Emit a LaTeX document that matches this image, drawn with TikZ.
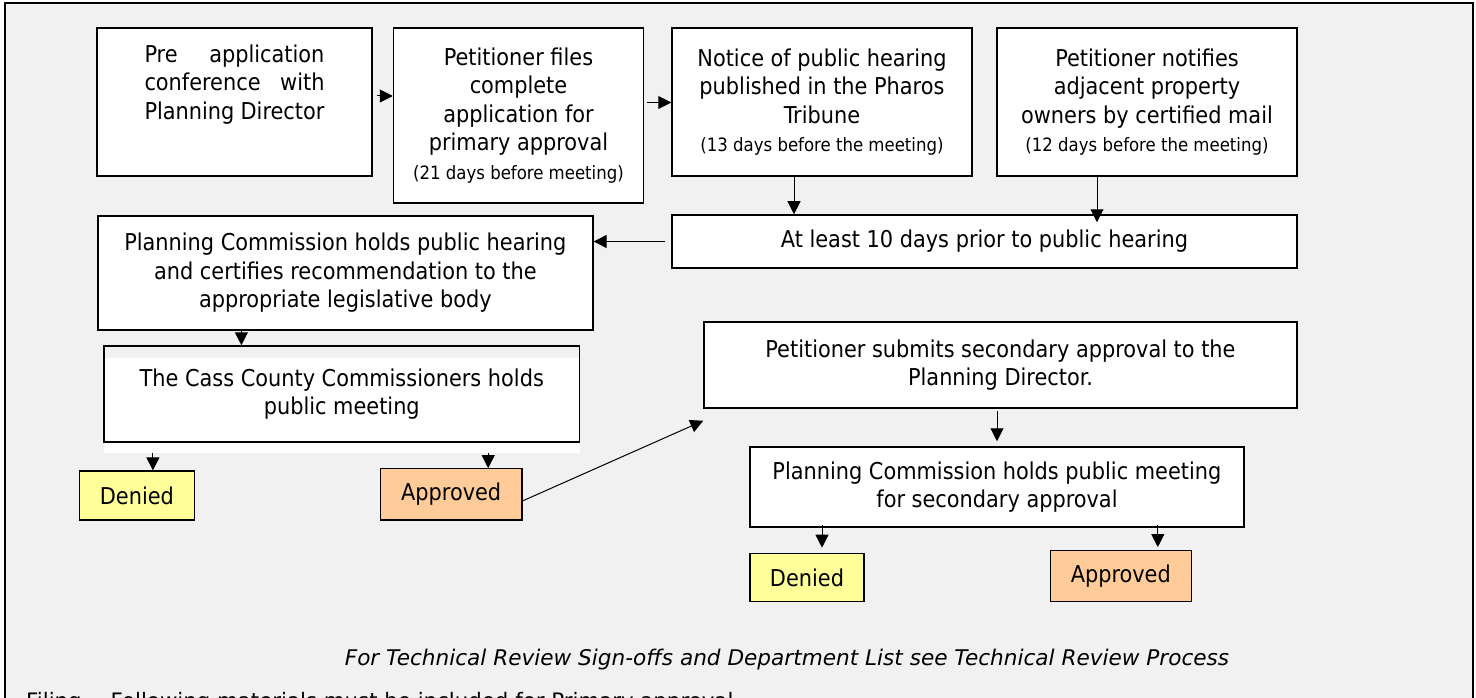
\documentclass[tikz,border=0pt]{standalone}
\usepackage{fontspec}
\setmainfont{DejaVu Sans Condensed}
\newfontfamily\notefont{DejaVu Sans}
\usetikzlibrary{arrows.meta}

\definecolor{panel}{HTML}{F1F1F1}
\definecolor{deniedfill}{HTML}{FFFF99}
\definecolor{approvedfill}{HTML}{FFCC99}
\newcommand\boxfont{\fontsize{23.2}{28.5}\selectfont}
\newcommand\daysfont{\fontsize{18.4}{24}\selectfont}
\newcommand\spreadline[1]{\makebox[180pt][s]{#1}}
\tikzset{
  box/.style={draw=black, line width=1.5pt, fill=white, inner sep=0pt, align=center, font=\boxfont},
  outcome/.style={box, line width=1.2pt},
  arr/.style={-{Triangle[length=13pt,width=13pt]}, line width=1pt},
}

\begin{document}
\begin{tikzpicture}[x=1pt, y=-1pt]
  \useasboundingbox (0,0) rectangle (1476,698);
  \fill[white] (0,0) rectangle (1476,698);
  \draw[line width=2pt, fill=panel] (5,3) rectangle (1473,720);

  % first row
  \node[box, minimum width=275pt, minimum height=148pt] (pre) at (234.5,102) {};
  \node[anchor=north, font=\boxfont, align=center, inner sep=0pt] (pretext) at ([yshift=-17pt]pre.north)
    {\spreadline{Pre application}\\\spreadline{conference with}\\\spreadline{Planning Director}};
  \node[box, minimum width=250pt, minimum height=175pt] (files) at (518.5,115.5)
    {Petitioner files\\complete\\application for\\primary approval\\{\daysfont (21 days before meeting)}};
  \node[box, minimum width=300pt, minimum height=148pt] (notice) at (822,102)
    {Notice of public hearing\\published in the Pharos\\Tribune\\{\daysfont (13 days before the meeting)}};
  \node[box, minimum width=300pt, minimum height=148pt] (notify) at (1147,102)
    {Petitioner notifies\\adjacent property\\owners by certified mail\\{\daysfont (12 days before the meeting)}};

  % hearing row
  \node[box, minimum width=625pt, minimum height=53pt] (atleast) at (984.5,241.5)
    {At least 10 days prior to public hearing};
  \node[box, minimum width=495pt, minimum height=114pt] (hearing) at (345.4,273)
    {Planning Commission holds public hearing\\and certifies recommendation to the\\appropriate legislative body};

  % county commissioners
  \fill[white] (104,358) rectangle (579.5,453);
  \node[box, fill=none, minimum width=475.5pt, minimum height=96pt] (cass) at (341.8,394)
    {The Cass County Commissioners holds\\public meeting};
  \coordinate (cassfoot) at (341.8,453);
  \node[outcome, fill=deniedfill, minimum width=115pt, minimum height=49pt] (denyA) at (136.9,495.5) {Denied};
  \node[outcome, fill=approvedfill, minimum width=141.6pt, minimum height=51.3pt] (approveA) at (451.2,494.4) {Approved};

  % secondary approval
  \node[box, minimum width=593pt, minimum height=86pt] (submit) at (1000.5,365)
    {Petitioner submits secondary approval to the\\Planning Director.};
  \node[box, minimum width=494pt, minimum height=80pt] (meeting) at (997,487)
    {Planning Commission holds public meeting\\for secondary approval};
  \node[outcome, fill=deniedfill, minimum width=114pt, minimum height=48.4pt] (denyB) at (807,577.5) {Denied};
  \node[outcome, fill=approvedfill, minimum width=141pt, minimum height=51pt] (approveB) at (1120.8,576.2) {Approved};

  % notes
  \node[font=\notefont\itshape\fontsize{21.6}{26}\selectfont] (note) at (787,660)
    {For Technical Review Sign-offs and Department List see Technical Review Process};
  \node[anchor=north west, inner sep=0pt, font=\notefont\fontsize{21.3}{25}\selectfont] (filing) at (26,692)
    {Filing -- Following materials must be included for Primary approval};

  % connectors
  \draw[arr] ([shift={(4pt,6pt)}]pre.east) -- ([yshift=6pt]pre.east -| files.west);
  \draw[arr] ([shift={(3pt,13pt)}]files.east) -- ([yshift=13pt]files.east -| notice.west);
  \draw[arr] ([xshift=-28pt]notice.south) -- ([xshift=-28pt]notice.south |- atleast.north);
  \draw[arr] ([shift={(-50pt,2pt)}]notify.south) -- ([shift={(-50pt,-8pt)}]notify.south |- atleast.north);
  \draw[arr] ([xshift=-6pt]atleast.west) -- (atleast.west -| hearing.east);
  \draw[arr] ([xshift=-104pt]hearing.south) -- ([xshift=-104pt]hearing.south |- cass.north);
  \draw[arr] ([xshift=16pt]denyA.north |- cassfoot) -- ([xshift=16pt]denyA.north);
  \draw[arr] ([xshift=37pt]approveA.north |- cassfoot) -- ([xshift=37pt]approveA.north);
  \draw[arr] ([yshift=-6.5pt]approveA.east) -- ([yshift=-12pt]submit.south west);
  \draw[arr] ([yshift=-2pt]submit.south -| meeting.north) -- ([yshift=5pt]meeting.north);
  \draw[arr] ([xshift=15pt, yshift=3pt]denyB.north |- meeting.south) -- ([xshift=15pt, yshift=5pt]denyB.north);
  \draw[arr] ([xshift=37pt, yshift=3pt]approveB.north |- meeting.south) -- ([xshift=37pt, yshift=3pt]approveB.north);
\end{tikzpicture}
\end{document}
